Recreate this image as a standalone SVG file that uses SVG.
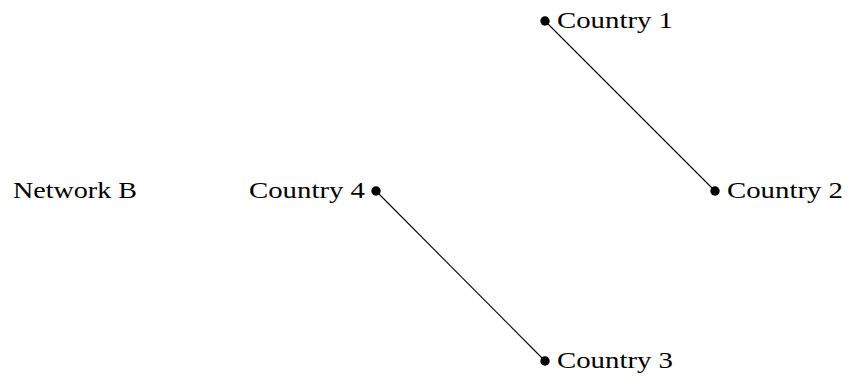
<svg xmlns="http://www.w3.org/2000/svg" width="850" height="381" viewBox="0 0 850 381">
<style>
text{font-family:"Liberation Serif","DejaVu Serif",serif;font-size:23px;fill:#000}
.e{stroke:#000;stroke-width:1.1;fill:none}
.d{fill:#000}
</style>
<rect width="850" height="381" fill="#fff"/>
<g id="connectors">
<line class="e" x1="545" y1="21" x2="715" y2="191"/>
<line class="e" x1="376" y1="191" x2="545" y2="361"/>
</g>
<g id="country1"><circle class="d" cx="545" cy="21" r="4.7"/><text x="557" y="28" textLength="116" lengthAdjust="spacingAndGlyphs">Country 1</text></g>
<g id="country2"><circle class="d" cx="715" cy="191" r="4.7"/><text x="727" y="198" textLength="116" lengthAdjust="spacingAndGlyphs">Country 2</text></g>
<g id="country4"><circle class="d" cx="376" cy="191" r="4.7"/><text x="249" y="198" textLength="116" lengthAdjust="spacingAndGlyphs">Country 4</text></g>
<g id="country3"><circle class="d" cx="545" cy="361" r="4.7"/><text x="557" y="368" textLength="116" lengthAdjust="spacingAndGlyphs">Country 3</text></g>
<g id="networkB"><text x="13" y="198" textLength="124" lengthAdjust="spacingAndGlyphs">Network B</text></g>
</svg>
